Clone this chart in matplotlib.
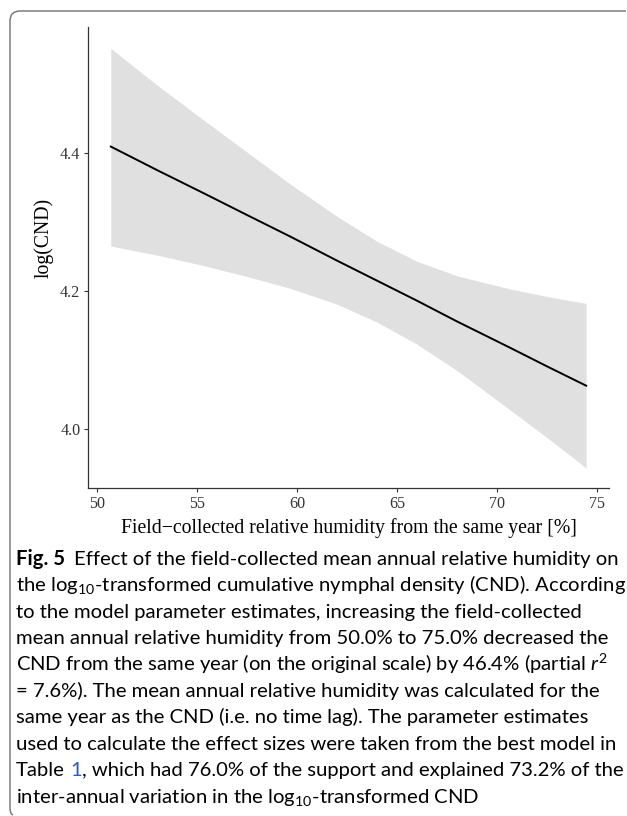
import numpy as np
import matplotlib
matplotlib.use("Agg")
import matplotlib.pyplot as plt
from matplotlib.path import Path
from matplotlib.patches import PathPatch

# values
hum = [50.69, 53.0, 55.3, 57.5, 59.65, 62.0, 64.0, 66.0, 68.0, 70.65, 72.5, 74.46]
fit = [4.409, 4.375, 4.342, 4.310, 4.279, 4.244, 4.215, 4.186, 4.156, 4.118, 4.091, 4.063]
upper = [4.551, 4.498, 4.448, 4.401, 4.355, 4.308, 4.272, 4.243, 4.222, 4.203, 4.192, 4.182]
lower = [4.265, 4.252, 4.237, 4.221, 4.204, 4.181, 4.155, 4.123, 4.085, 4.028, 3.988, 3.944]
xticks = [50, 55, 60, 65, 70, 75]
yticks = [4.0, 4.2, 4.4]

xlabel = "Field\u2212collected relative humidity from the same year [%]"
ylabel = "log(CND)"

caption = [
    [("Fig. 5", "bold", "k"), 1.7, ("Effect of the field-collected mean annual relative humidity on", "normal", "k")],
    [("the log$_{10}$-transformed cumulative nymphal density (CND). According", "normal", "k")],
    [("to the model parameter estimates, increasing the field-collected", "normal", "k")],
    [("mean annual relative humidity from 50.0% to 75.0% decreased the", "normal", "k")],
    [("CND from the same year (on the original scale) by 46.4% (partial $r^2$", "normal", "k")],
    [("= 7.6%). The mean annual relative humidity was calculated for the", "normal", "k")],
    [("same year as the CND (i.e. no time lag). The parameter estimates", "normal", "k")],
    [("used to calculate the effect sizes were taken from the best model in", "normal", "k")],
    [("Table", "normal", "k"), 1.0, ("1", "normal", "#2a5cc8"), (", which had 76.0% of the support and explained 73.2% of the", "normal", "k")],
    [("inter-annual variation in the log$_{10}$-transformed CND", "normal", "k")],
]

W, H = 627, 816
cap_font = "Lato"
serif = "Liberation Serif"
plt.rcParams["mathtext.fontset"] = "custom"
plt.rcParams["mathtext.rm"] = cap_font
plt.rcParams["mathtext.it"] = cap_font + ":italic"
plt.rcParams["mathtext.bf"] = cap_font + ":bold"

fig = plt.figure(figsize=(W / 100, H / 100), dpi=100)
ax = fig.add_axes([88 / W, 1 - 488 / H, (609 - 88) / W, (488 - 27) / H])

ax.fill_between(hum, lower, upper, color="#e0e0e0", lw=0)
ax.plot(hum, fit, color="black", lw=1.4)

ax.set_xlim(49.55, 75.6)
ax.set_ylim(3.915, 4.582)
ax.set_xticks(xticks)
ax.set_yticks(yticks)
ax.set_yticklabels(["%.1f" % v for v in yticks])
for s in ["top", "right"]:
    ax.spines[s].set_visible(False)
for s in ["left", "bottom"]:
    ax.spines[s].set_color("#333333")
    ax.spines[s].set_linewidth(0.9)
ax.tick_params(length=3, width=0.8, color="#333333", labelcolor="#333333",
               labelsize=11.6, pad=2.5)
for lab in ax.get_xticklabels() + ax.get_yticklabels():
    lab.set_family(serif)

fig.text(348.5 / W, 1 - 533 / H, xlabel, family=serif, fontsize=14.2,
         ha="center", va="baseline")
fig.text(44 / W, 1 - 238 / H, ylabel, family=serif, fontsize=14.2,
         rotation=90, ha="center", va="center")

# frame around figure + caption
r = 10
verts = [(626, 11), (10 + r, 11), (10, 11), (10, 11 + r), (10, 808), (10, 814), (13, 815)]
codes = [Path.MOVETO, Path.LINETO, Path.CURVE3, Path.CURVE3, Path.LINETO, Path.CURVE3, Path.CURVE3]
verts = [(x / W, 1 - y / H) for x, y in verts]
fig.patches.append(PathPatch(Path(verts, codes), transform=fig.transFigure,
                             fill=False, edgecolor="#707070", lw=1.0))

# caption
renderer = fig.canvas.get_renderer()


def width(txt, size, weight="normal"):
    t = fig.text(0, 0, txt, family=cap_font, fontsize=size, weight=weight)
    w = t.get_window_extent(renderer).width
    t.remove()
    return w


def line_width(segs, size):
    sp = width("a a", size) - width("aa", size)
    tot = 0
    for s in segs:
        if isinstance(s, (int, float)):
            tot += s * sp
        else:
            tot += width(s[0], size, s[1])
    return tot


size = 10 * 602 / line_width(caption[0], 10)
sp = width("a a", size) - width("aa", size)
y0, dy = 565, 26.4
for i, segs in enumerate(caption):
    x = 16
    y = y0 + i * dy
    for s in segs:
        if isinstance(s, (int, float)):
            x += s * sp
            continue
        t = fig.text(x / W, 1 - y / H, s[0], family=cap_font, fontsize=size,
                     weight=s[1], color=s[2], va="baseline", ha="left")
        x += t.get_window_extent(renderer).width

fig.savefig("out.png", dpi=100)
